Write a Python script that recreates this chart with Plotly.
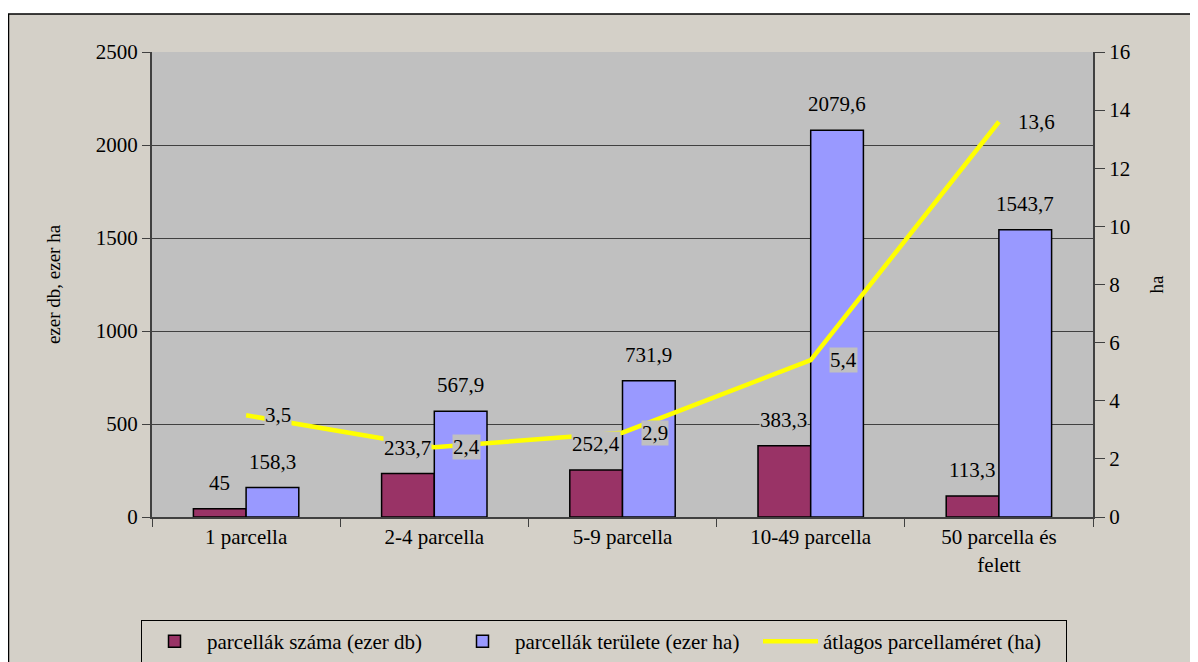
import plotly.graph_objects as go

categories = ["1 parcella", "2-4 parcella", "5-9 parcella", "10-49 parcella", "50 parcella és<br>felett"]
parcel_count = [45, 233.7, 252.4, 383.3, 113.3]
parcel_area = [158.3, 567.9, 731.9, 2079.6, 1543.7]
avg_size = [3.5, 2.4, 2.9, 5.4, 13.6]

count_name = "parcellák száma (ezer db)"
area_name = "parcellák területe (ezer ha)"
avg_name = "átlagos parcellaméret (ha)"

FONT = "Liberation Serif"
BEIGE = "#d4d0c8"
PLOTBG = "#c0c0c0"

def fmt(v):
    return ("%g" % v).replace(".", ",")

fig = go.Figure()
fig.add_trace(go.Bar(x=categories, y=parcel_count, name=count_name,
                     marker=dict(color="#993366", line=dict(color="#000000", width=1.5))))
fig.add_trace(go.Bar(x=categories, y=parcel_area, name=area_name,
                     marker=dict(color="#9999ff", line=dict(color="#000000", width=1.5))))
fig.add_trace(go.Scatter(x=categories, y=avg_size, name=avg_name, yaxis="y2",
                         mode="lines", line=dict(color="#ffff00", width=4.5)))

lab_font = dict(family=FONT, size=21, color="#000")
annotations = []
for c, v in zip(categories, parcel_count):
    annotations.append(dict(x=c, y=v, xref="x", yref="y", text=fmt(v), showarrow=False,
                            xshift=-27, yshift=26, yanchor="middle", bgcolor=PLOTBG,
                            font=lab_font, borderpad=0))
for c, v in zip(categories, parcel_area):
    annotations.append(dict(x=c, y=v, xref="x", yref="y", text=fmt(v), showarrow=False,
                            xshift=26, yshift=26, yanchor="middle", bgcolor=PLOTBG,
                            font=lab_font, borderpad=0))
for c, v in zip(categories, avg_size):
    annotations.append(dict(x=c, y=v, xref="x", yref="y2", text=fmt(v), showarrow=False,
                            xshift=18, xanchor="left", yanchor="middle", bgcolor=PLOTBG,
                            font=lab_font, borderpad=0))

# figure pixel coords (page has 8px body margin): plot area x 144..1085, y 44..509
def xp(px):
    return (px - 144) / 941.0

def yp(py):
    return (509 - py) / 465.0

shapes = [
    dict(type="rect", xref="paper", yref="paper", x0=xp(-5), x1=xp(1200), y0=yp(6), y1=yp(-5),
         fillcolor="#ffffff", line=dict(width=0), layer="below"),
    dict(type="line", xref="paper", yref="paper", x0=xp(0), x1=xp(1200), y0=yp(6), y1=yp(6),
         line=dict(color="#000000", width=1.5)),
    dict(type="line", xref="paper", yref="paper", x0=xp(0.5), x1=xp(0.5), y0=yp(6), y1=yp(660),
         line=dict(color="#000000", width=1.5)),
]

fig.update_layout(
    width=1190, height=654,
    margin=dict(l=144, r=105, t=44, b=145),
    paper_bgcolor=BEIGE, plot_bgcolor=PLOTBG,
    font=dict(family=FONT, size=21, color="#000"),
    barmode="group", bargap=0.44, bargroupgap=0,
    showlegend=True,
    legend=dict(orientation="h", xref="container", yref="container",
                x=(604 - 8) / 1190, xanchor="center", y=1 - 612 / 654, yanchor="top",
                bgcolor=BEIGE, bordercolor="#000000", borderwidth=1,
                font=dict(family=FONT, size=21, color="#000"),
                traceorder="normal", itemwidth=55, entrywidth=238),
    xaxis=dict(type="category", showgrid=False, showline=True, linecolor="#404040", linewidth=2,
               ticks="outside", tickson="boundaries", ticklen=8, tickcolor="#404040",
               tickfont=dict(family=FONT, size=21), zeroline=False),
    yaxis=dict(range=[0, 2500], dtick=500, showgrid=True, gridcolor="#404040", gridwidth=1,
               showline=True, linecolor="#404040", linewidth=2, ticks="outside", ticklen=8,
               tickcolor="#404040", tickfont=dict(family=FONT, size=21), zeroline=False,
               title=dict(text="ezer db, ezer ha", font=dict(family=FONT, size=19), standoff=30)),
    yaxis2=dict(range=[0, 16], dtick=2, overlaying="y", side="right", showgrid=False,
                showline=True, linecolor="#404040", linewidth=2, ticks="outside", ticklen=10,
                tickcolor="#404040", tickfont=dict(family=FONT, size=21), zeroline=False,
                title=dict(text="ha", font=dict(family=FONT, size=19), standoff=20)),
    annotations=annotations,
    shapes=shapes,
)

fig.write_html("out.html")
